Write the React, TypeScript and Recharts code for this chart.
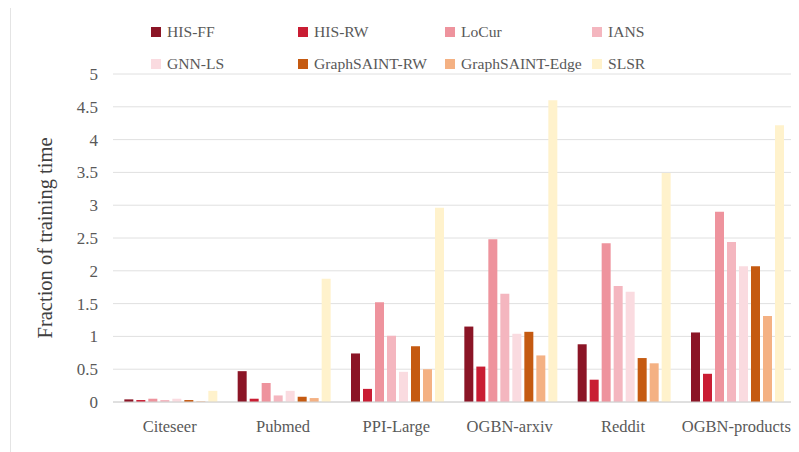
import React from 'react';
import { BarChart, Bar, XAxis, YAxis, CartesianGrid } from 'recharts';

// datasets along the x axis
const categories = ['Citeseer', 'Pubmed', 'PPI-Large', 'OGBN-arxiv', 'Reddit', 'OGBN-products'];

// fraction of training time per sampler
const hisFF = [0.04, 0.47, 0.74, 1.15, 0.88, 1.06];
const hisRW = [0.03, 0.05, 0.2, 0.54, 0.34, 0.43];
const loCur = [0.05, 0.29, 1.52, 2.48, 2.42, 2.9];
const ians = [0.03, 0.1, 1.01, 1.65, 1.77, 2.44];
const gnnLS = [0.05, 0.17, 0.46, 1.04, 1.68, 2.07];
const gsRW = [0.03, 0.08, 0.85, 1.07, 0.67, 2.07];
const gsEdge = [0.01, 0.06, 0.5, 0.71, 0.59, 1.31];
const slsr = [0.17, 1.88, 2.96, 4.6, 3.49, 4.22];

const yTicks = [0, 0.5, 1, 1.5, 2, 2.5, 3, 3.5, 4, 4.5, 5];

const SERIES = [
  { key: 'HIS-FF', values: hisFF, color: '#8B1526' },
  { key: 'HIS-RW', values: hisRW, color: '#C91D33' },
  { key: 'LoCur', values: loCur, color: '#EE939D' },
  { key: 'IANS', values: ians, color: '#F4B6BF' },
  { key: 'GNN-LS', values: gnnLS, color: '#FADBE0' },
  { key: 'GraphSAINT-RW', values: gsRW, color: '#C55A11' },
  { key: 'GraphSAINT-Edge', values: gsEdge, color: '#F4B183' },
  { key: 'SLSR', values: slsr, color: '#FFF2CC' },
];

const FONT = '"Liberation Serif", serif';
const TEXT = '#595959';

// legend sits above the plot, two rows of four like the original
const ChartLegend = () => (
  <div
    style={{
      position: 'absolute',
      top: 13,
      left: 140,
      display: 'grid',
      gridTemplateColumns: 'repeat(4, 147px)',
      rowGap: 11,
      fontFamily: FONT,
    }}
  >
    {SERIES.map((s) => (
      <div key={s.key} style={{ display: 'flex', alignItems: 'center', height: 21, fontSize: 15.6, color: TEXT }}>
        <span style={{ width: 10, height: 10, background: s.color, marginRight: 6, display: 'inline-block' }} />
        {s.key}
      </div>
    ))}
  </div>
);

export default function App() {
  const data = categories.map((name, i) => {
    const row: Record<string, string | number> = { name };
    SERIES.forEach((s) => {
      row[s.key] = s.values[i];
    });
    return row;
  });

  return (
    <div
      style={{
        position: 'relative',
        width: 791,
        height: 444,
        marginLeft: 2,
        marginTop: -1,
        borderLeft: '1px solid #e4e4e4',
        borderTop: '1px solid #e4e4e4',
        background: '#fff',
      }}
    >
      <BarChart
        width={790}
        height={444}
        data={data}
        margin={{ top: 66, right: 8, bottom: 20, left: 0 }}
        barCategoryGap="10%"
        barGap={3}
      >
        <CartesianGrid vertical={false} stroke="#e0e0e0" />
        <XAxis
          dataKey="name"
          tickLine={false}
          axisLine={{ stroke: '#d0d0d0' }}
          tick={{ fill: TEXT, fontSize: 16.5, fontFamily: FONT }}
          tickMargin={12}
          height={30}
        />
        <YAxis
          domain={[0, 5]}
          ticks={yTicks}
          tickLine={false}
          axisLine={false}
          width={102}
          tick={{ fill: TEXT, fontSize: 17, fontFamily: FONT }}
          tickMargin={9}
          label={{
            value: 'Fraction of training time',
            angle: -90,
            position: 'insideLeft',
            offset: 34,
            style: { textAnchor: 'middle', fill: '#404040', fontSize: 20.5, fontFamily: FONT },
          }}
        />
        {SERIES.map((s) => (
          <Bar key={s.key} dataKey={s.key} fill={s.color} isAnimationActive={false} />
        ))}
      </BarChart>
      <ChartLegend />
    </div>
  );
}
